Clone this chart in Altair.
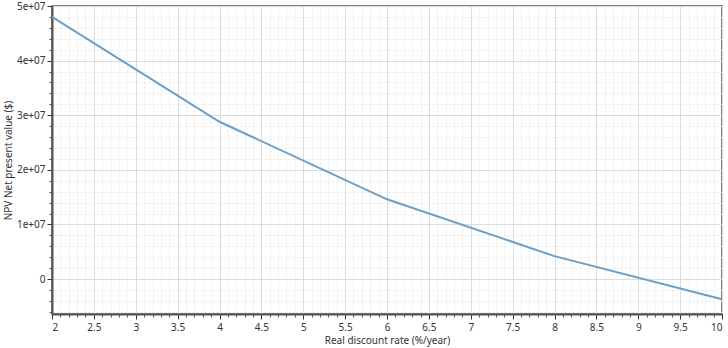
import altair as alt
import pandas as pd
import numpy as np

rate = [2, 4, 6, 8, 10]
npv = [4.80e7, 2.88e7, 1.46e7, 4.2e6, -3.7e6]

x_major = [2 + 0.5 * i for i in range(17)]
x_minor = [round(2 + 0.1 * i, 1) for i in range(81)]
y_major = [0, 1e7, 2e7, 3e7, 4e7, 5e7]
y_minor = [-6e6 + 2e6 * i for i in range(29)]

df = pd.DataFrame({"rate": rate, "npv": npv})

FONT = "Noto Sans"
FS = 10
xs = alt.Scale(domain=[2, 10], nice=False, zero=False)
ys = alt.Scale(domain=[-6.4e6, 5e7], nice=False, zero=False)

minor = alt.Chart(df).mark_line(opacity=0).encode(
    x=alt.X("rate:Q", scale=xs, axis=alt.Axis(
        orient="bottom", values=x_minor, labels=False, title=None, domain=False,
        grid=True, gridColor="#e8e8e8", gridDash=[2, 2], gridWidth=1,
        tickSize=3, tickColor="#555")),
    y=alt.Y("npv:Q", scale=ys, axis=alt.Axis(
        orient="left", values=y_minor, labels=False, title=None, domain=False,
        grid=True, gridColor="#e8e8e8", gridDash=[2, 2], gridWidth=1,
        tickSize=3, tickColor="#555")),
)

major = alt.Chart(df).mark_line(color="#6b9fc6", strokeWidth=2).encode(
    x=alt.X("rate:Q", scale=xs, axis=alt.Axis(
        orient="bottom", values=x_major, title="Real discount rate (%/year)",
        grid=True, gridColor="#dcdcdc", gridWidth=1,
        domainColor="#555", domainWidth=2, tickColor="#333", tickSize=5,
        labelFont=FONT, labelFontSize=FS, labelColor="#333", labelPadding=3,
        labelExpr="datum.value",
        titleFont=FONT, titleFontSize=FS, titleFontWeight="normal", titleColor="#333",
        titlePadding=3)),
    y=alt.Y("npv:Q", scale=ys, axis=alt.Axis(
        orient="left", values=y_major, title="NPV Net present value ($)",
        grid=True, gridColor="#dcdcdc", gridWidth=1,
        domainColor="#555", domainWidth=2, tickColor="#333", tickSize=5,
        labelFont=FONT, labelFontSize=FS, labelColor="#333", labelPadding=2,
        labelExpr="datum.value == 0 ? '0' : (datum.value / 1e7) + 'e+07'",
        titleFont=FONT, titleFontSize=FS, titleFontWeight="normal", titleColor="#333",
        titlePadding=3)),
)

chart = alt.layer(minor, major).resolve_axis(x="independent", y="independent").properties(
    width=670, height=308,
    autosize=alt.AutoSizeParams(type="none"),
    padding={"left": 52, "top": 6, "right": 6, "bottom": 34},
).configure_view(stroke="#555", strokeWidth=1.5)

chart.save("out.html", embed_options={"renderer": "svg", "actions": False})
